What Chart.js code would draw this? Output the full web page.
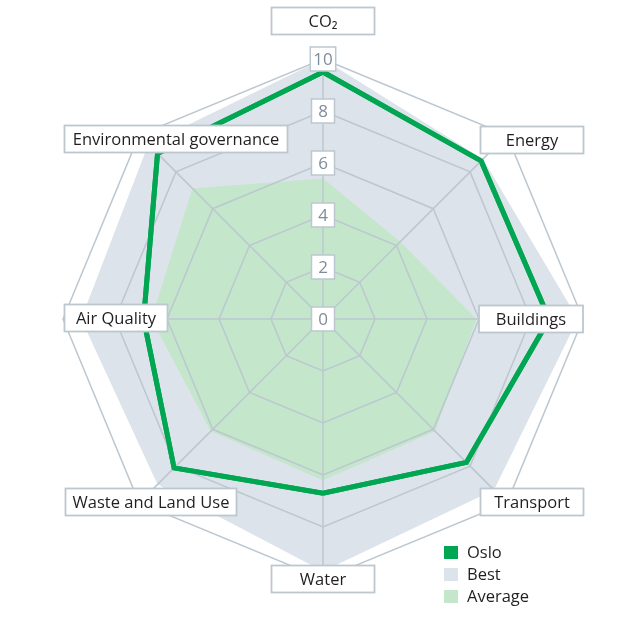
<!DOCTYPE html>
<html><head><meta charset="utf-8">
<script src="https://cdn.jsdelivr.net/npm/chart.js@4.4.1/dist/chart.umd.min.js"></script>
<style>html,body{margin:0;padding:0;background:#fff;overflow:hidden}</style>
</head><body>
<canvas id="c" width="626" height="623"></canvas>
<script>
// ---- data ----
const categories = ['CO\u2082', 'Energy', 'Buildings', 'Transport', 'Water', 'Waste and Land Use', 'Air Quality', 'Environmental governance'];
const seriesNames = ['Oslo', 'Best', 'Average'];
const osloValues = [9.5, 8.6, 8.7, 7.8, 6.7, 8.1, 6.9, 9.0];
const bestValues = [10, 8.7, 9.8, 9.3, 9.7, 9.0, 9.3, 9.5];
const averageValues = [5.4, 4.2, 5.9, 6.1, 6.2, 6.1, 6.6, 7.1];
const tickValues = [0, 2, 4, 6, 8, 10];

// ---- styles ----
const FONT = '"Open Sans", "Noto Sans", "DejaVu Sans", sans-serif';
const GRID = '#bcc7d0';
const OSLO = '#00a651';
const BEST = '#dde3ea';
const AVG = '#c4e6cb';

// label boxes: offset from scale centre (px at radius 260) and box width
const labelBoxes = [
  {dx: 0, dy: -298, w: 103},
  {dx: 209, dy: -179, w: 103},
  {dx: 208, dy: 0, w: 104},
  {dx: 209, dy: 183, w: 103},
  {dx: 0, dy: 260, w: 103},
  {dx: -172, dy: 183, w: 171},
  {dx: -207, dy: -1, w: 103},
  {dx: -147, dy: -180, w: 223}
];

const overlay = {
  id: 'overlay',
  afterDraw(chart) {
    const ctx = chart.ctx;
    const r = chart.scales.r;
    // Oslo line above grid
    chart.getDatasetMeta(0).controller.draw();
    const k = r.drawingArea / 260;

    ctx.save();
    ctx.textAlign = 'center';
    ctx.textBaseline = 'middle';
    // tick label boxes
    ctx.font = '17px ' + FONT;
    tickValues.forEach(v => {
      const p = r.getPointPositionForValue(0, v);
      const t = String(v);
      const tw = ctx.measureText(t).width;
      const w = Math.max(23, tw + 6), h = 24;
      ctx.fillStyle = '#fff';
      ctx.fillRect(p.x - w / 2, p.y - h / 2, w, h);
      ctx.strokeStyle = GRID;
      ctx.lineWidth = 1.5;
      ctx.strokeRect(p.x - w / 2, p.y - h / 2, w, h);
      ctx.fillStyle = '#7f8c99';
      ctx.fillText(t, p.x, p.y + 1);
    });
    // category label boxes
    ctx.font = '16.5px ' + FONT;
    chart.data.labels.forEach((lab, i) => {
      const b = labelBoxes[i];
      const cx = r.xCenter + b.dx * k, cy = r.yCenter + b.dy * k;
      const w = b.w, h = 27;
      ctx.fillStyle = '#fff';
      ctx.fillRect(cx - w / 2, cy - h / 2, w, h);
      ctx.strokeStyle = GRID;
      ctx.lineWidth = 1.8;
      ctx.strokeRect(cx - w / 2, cy - h / 2, w, h);
      ctx.fillStyle = '#231f20';
      ctx.fillText(lab, cx, cy + 1);
    });
    // legend
    const lx = r.xCenter + 121, ly = r.yCenter + 234;
    ctx.textAlign = 'left';
    ctx.font = '16.5px ' + FONT;
    chart.data.datasets.forEach((ds, i) => {
      const y = ly + i * 22;
      ctx.fillStyle = i === 0 ? ds.borderColor : ds.backgroundColor;
      ctx.fillRect(lx, y - 7, 14, 13);
      ctx.fillStyle = '#231f20';
      ctx.fillText(ds.label, lx + 23, y);
    });
    ctx.restore();
  }
};

new Chart(document.getElementById('c'), {
  type: 'radar',
  data: {
    labels: categories,
    datasets: [
      {label: seriesNames[0], data: osloValues, borderColor: OSLO, borderWidth: 5, backgroundColor: 'rgba(0,0,0,0)', fill: false, pointRadius: 0, borderJoinStyle: 'miter', order: 0},
      {label: seriesNames[1], data: bestValues, borderWidth: 0, borderColor: 'rgba(0,0,0,0)', backgroundColor: BEST, fill: true, pointRadius: 0, order: 2},
      {label: seriesNames[2], data: averageValues, borderWidth: 0, borderColor: 'rgba(0,0,0,0)', backgroundColor: AVG, fill: true, pointRadius: 0, order: 1}
    ]
  },
  options: {
    responsive: false,
    animation: false,
    devicePixelRatio: 1,
    layout: {padding: {left: 63, right: 43, top: 59, bottom: 44}},
    plugins: {legend: {display: false}, tooltip: {enabled: false}},
    scales: {
      r: {
        min: 0, max: 10,
        ticks: {display: false, stepSize: 2},
        pointLabels: {display: false},
        grid: {color: GRID, lineWidth: 1.5, z: 1},
        angleLines: {color: GRID, lineWidth: 1.5}
      }
    }
  },
  plugins: [overlay]
});
</script>
</body></html>
